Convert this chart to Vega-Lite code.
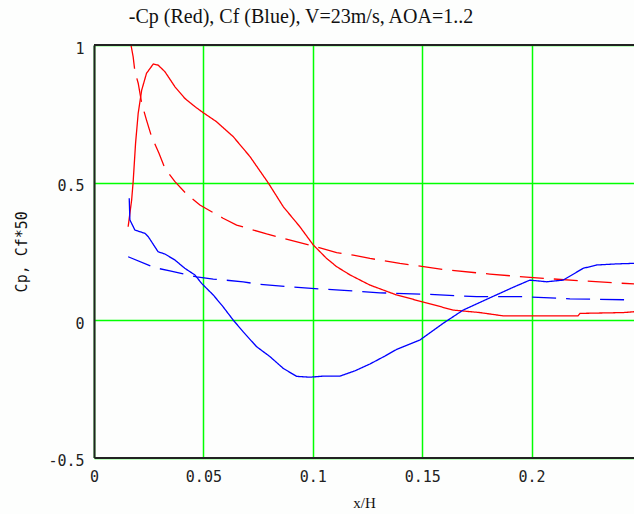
{
  "$schema": "https://vega.github.io/schema/vega-lite/v6.json",
  "width": 540,
  "height": 412.5,
  "autosize": {"type": "none"},
  "padding": {"left": 94, "top": 45, "right": 0, "bottom": 56.5},
  "background": "#fdfefd",
  "title": {
    "text": "-Cp (Red), Cf (Blue), V=23m/s, AOA=1..2",
    "font": "Liberation Serif",
    "fontSize": 20,
    "fontWeight": "normal",
    "color": "#111",
    "anchor": "middle",
    "dx": -63,
    "offset": 14
  },
  "config": {
    "view": {"stroke": null},
    "axis": {
      "labelFont": "DejaVu Sans Mono",
      "labelFontSize": 15,
      "labelColor": "#222",
      "titleFont": "Liberation Serif",
      "titleFontSize": 15,
      "titleFontWeight": "normal",
      "titleColor": "#111",
      "domainColor": "#222",
      "domainWidth": 2,
      "ticks": false,
      "gridColor": "#00ff00",
      "gridWidth": 1.5,
      "gridOpacity": 1
    }
  },
  "data": {
    "values": [
      {"curve": "Cp solid", "q": "Cp", "style": "solid", "x": 0.0156, "y": 0.339},
      {"curve": "Cp solid", "q": "Cp", "style": "solid", "x": 0.0172, "y": 0.436},
      {"curve": "Cp solid", "q": "Cp", "style": "solid", "x": 0.0179, "y": 0.503},
      {"curve": "Cp solid", "q": "Cp", "style": "solid", "x": 0.0190, "y": 0.643},
      {"curve": "Cp solid", "q": "Cp", "style": "solid", "x": 0.0202, "y": 0.752},
      {"curve": "Cp solid", "q": "Cp", "style": "solid", "x": 0.0218, "y": 0.836},
      {"curve": "Cp solid", "q": "Cp", "style": "solid", "x": 0.0240, "y": 0.897},
      {"curve": "Cp solid", "q": "Cp", "style": "solid", "x": 0.0271, "y": 0.931},
      {"curve": "Cp solid", "q": "Cp", "style": "solid", "x": 0.0293, "y": 0.927},
      {"curve": "Cp solid", "q": "Cp", "style": "solid", "x": 0.0324, "y": 0.903},
      {"curve": "Cp solid", "q": "Cp", "style": "solid", "x": 0.0370, "y": 0.848},
      {"curve": "Cp solid", "q": "Cp", "style": "solid", "x": 0.0415, "y": 0.806},
      {"curve": "Cp solid", "q": "Cp", "style": "solid", "x": 0.0461, "y": 0.776},
      {"curve": "Cp solid", "q": "Cp", "style": "solid", "x": 0.0499, "y": 0.754},
      {"curve": "Cp solid", "q": "Cp", "style": "solid", "x": 0.0560, "y": 0.721},
      {"curve": "Cp solid", "q": "Cp", "style": "solid", "x": 0.0636, "y": 0.667},
      {"curve": "Cp solid", "q": "Cp", "style": "solid", "x": 0.0713, "y": 0.594},
      {"curve": "Cp solid", "q": "Cp", "style": "solid", "x": 0.0796, "y": 0.499},
      {"curve": "Cp solid", "q": "Cp", "style": "solid", "x": 0.0865, "y": 0.412},
      {"curve": "Cp solid", "q": "Cp", "style": "solid", "x": 0.0941, "y": 0.339},
      {"curve": "Cp solid", "q": "Cp", "style": "solid", "x": 0.1002, "y": 0.273},
      {"curve": "Cp solid", "q": "Cp", "style": "solid", "x": 0.1063, "y": 0.224},
      {"curve": "Cp solid", "q": "Cp", "style": "solid", "x": 0.1109, "y": 0.194},
      {"curve": "Cp solid", "q": "Cp", "style": "solid", "x": 0.1170, "y": 0.164},
      {"curve": "Cp solid", "q": "Cp", "style": "solid", "x": 0.1261, "y": 0.127},
      {"curve": "Cp solid", "q": "Cp", "style": "solid", "x": 0.1383, "y": 0.091},
      {"curve": "Cp solid", "q": "Cp", "style": "solid", "x": 0.1497, "y": 0.067},
      {"curve": "Cp solid", "q": "Cp", "style": "solid", "x": 0.1642, "y": 0.036},
      {"curve": "Cp solid", "q": "Cp", "style": "solid", "x": 0.1764, "y": 0.027},
      {"curve": "Cp solid", "q": "Cp", "style": "solid", "x": 0.1870, "y": 0.015},
      {"curve": "Cp solid", "q": "Cp", "style": "solid", "x": 0.1992, "y": 0.015},
      {"curve": "Cp solid", "q": "Cp", "style": "solid", "x": 0.2212, "y": 0.015},
      {"curve": "Cp solid", "q": "Cp", "style": "solid", "x": 0.2221, "y": 0.024},
      {"curve": "Cp solid", "q": "Cp", "style": "solid", "x": 0.2419, "y": 0.027},
      {"curve": "Cp solid", "q": "Cp", "style": "solid", "x": 0.2468, "y": 0.030},

      {"curve": "Cp dashed", "q": "Cp", "style": "dashed", "x": 0.0169, "y": 1.0},
      {"curve": "Cp dashed", "q": "Cp", "style": "dashed", "x": 0.0179, "y": 0.957},
      {"curve": "Cp dashed", "q": "Cp", "style": "dashed", "x": 0.0187, "y": 0.903},
      {"curve": "Cp dashed", "q": "Cp", "style": "dashed", "x": 0.0202, "y": 0.861},
      {"curve": "Cp dashed", "q": "Cp", "style": "dashed", "x": 0.0218, "y": 0.788},
      {"curve": "Cp dashed", "q": "Cp", "style": "dashed", "x": 0.0240, "y": 0.727},
      {"curve": "Cp dashed", "q": "Cp", "style": "dashed", "x": 0.0263, "y": 0.667},
      {"curve": "Cp dashed", "q": "Cp", "style": "dashed", "x": 0.0297, "y": 0.606},
      {"curve": "Cp dashed", "q": "Cp", "style": "dashed", "x": 0.0324, "y": 0.552},
      {"curve": "Cp dashed", "q": "Cp", "style": "dashed", "x": 0.0370, "y": 0.503},
      {"curve": "Cp dashed", "q": "Cp", "style": "dashed", "x": 0.0423, "y": 0.458},
      {"curve": "Cp dashed", "q": "Cp", "style": "dashed", "x": 0.0484, "y": 0.418},
      {"curve": "Cp dashed", "q": "Cp", "style": "dashed", "x": 0.0590, "y": 0.370},
      {"curve": "Cp dashed", "q": "Cp", "style": "dashed", "x": 0.0652, "y": 0.345},
      {"curve": "Cp dashed", "q": "Cp", "style": "dashed", "x": 0.0789, "y": 0.313},
      {"curve": "Cp dashed", "q": "Cp", "style": "dashed", "x": 0.0865, "y": 0.297},
      {"curve": "Cp dashed", "q": "Cp", "style": "dashed", "x": 0.1002, "y": 0.269},
      {"curve": "Cp dashed", "q": "Cp", "style": "dashed", "x": 0.1109, "y": 0.245},
      {"curve": "Cp dashed", "q": "Cp", "style": "dashed", "x": 0.1185, "y": 0.236},
      {"curve": "Cp dashed", "q": "Cp", "style": "dashed", "x": 0.1261, "y": 0.224},
      {"curve": "Cp dashed", "q": "Cp", "style": "dashed", "x": 0.1398, "y": 0.206},
      {"curve": "Cp dashed", "q": "Cp", "style": "dashed", "x": 0.1612, "y": 0.182},
      {"curve": "Cp dashed", "q": "Cp", "style": "dashed", "x": 0.1809, "y": 0.167},
      {"curve": "Cp dashed", "q": "Cp", "style": "dashed", "x": 0.1992, "y": 0.155},
      {"curve": "Cp dashed", "q": "Cp", "style": "dashed", "x": 0.2236, "y": 0.142},
      {"curve": "Cp dashed", "q": "Cp", "style": "dashed", "x": 0.2468, "y": 0.131},

      {"curve": "Cf solid", "q": "Cf", "style": "solid", "x": 0.0161, "y": 0.443},
      {"curve": "Cf solid", "q": "Cf", "style": "solid", "x": 0.0164, "y": 0.364},
      {"curve": "Cf solid", "q": "Cf", "style": "solid", "x": 0.0187, "y": 0.327},
      {"curve": "Cf solid", "q": "Cf", "style": "solid", "x": 0.0233, "y": 0.315},
      {"curve": "Cf solid", "q": "Cf", "style": "solid", "x": 0.0248, "y": 0.303},
      {"curve": "Cf solid", "q": "Cf", "style": "solid", "x": 0.0293, "y": 0.248},
      {"curve": "Cf solid", "q": "Cf", "style": "solid", "x": 0.0324, "y": 0.240},
      {"curve": "Cf solid", "q": "Cf", "style": "solid", "x": 0.0370, "y": 0.218},
      {"curve": "Cf solid", "q": "Cf", "style": "solid", "x": 0.0415, "y": 0.188},
      {"curve": "Cf solid", "q": "Cf", "style": "solid", "x": 0.0461, "y": 0.164},
      {"curve": "Cf solid", "q": "Cf", "style": "solid", "x": 0.0492, "y": 0.133},
      {"curve": "Cf solid", "q": "Cf", "style": "solid", "x": 0.0545, "y": 0.091},
      {"curve": "Cf solid", "q": "Cf", "style": "solid", "x": 0.0590, "y": 0.048},
      {"curve": "Cf solid", "q": "Cf", "style": "solid", "x": 0.0636, "y": 0.0},
      {"curve": "Cf solid", "q": "Cf", "style": "solid", "x": 0.0682, "y": -0.043},
      {"curve": "Cf solid", "q": "Cf", "style": "solid", "x": 0.0743, "y": -0.097},
      {"curve": "Cf solid", "q": "Cf", "style": "solid", "x": 0.0804, "y": -0.133},
      {"curve": "Cf solid", "q": "Cf", "style": "solid", "x": 0.0865, "y": -0.176},
      {"curve": "Cf solid", "q": "Cf", "style": "solid", "x": 0.0926, "y": -0.205},
      {"curve": "Cf solid", "q": "Cf", "style": "solid", "x": 0.0987, "y": -0.208},
      {"curve": "Cf solid", "q": "Cf", "style": "solid", "x": 0.1048, "y": -0.204},
      {"curve": "Cf solid", "q": "Cf", "style": "solid", "x": 0.1124, "y": -0.204},
      {"curve": "Cf solid", "q": "Cf", "style": "solid", "x": 0.1192, "y": -0.185},
      {"curve": "Cf solid", "q": "Cf", "style": "solid", "x": 0.1261, "y": -0.160},
      {"curve": "Cf solid", "q": "Cf", "style": "solid", "x": 0.1330, "y": -0.131},
      {"curve": "Cf solid", "q": "Cf", "style": "solid", "x": 0.1383, "y": -0.107},
      {"curve": "Cf solid", "q": "Cf", "style": "solid", "x": 0.1489, "y": -0.073},
      {"curve": "Cf solid", "q": "Cf", "style": "solid", "x": 0.1596, "y": -0.012},
      {"curve": "Cf solid", "q": "Cf", "style": "solid", "x": 0.1687, "y": 0.036},
      {"curve": "Cf solid", "q": "Cf", "style": "solid", "x": 0.1794, "y": 0.075},
      {"curve": "Cf solid", "q": "Cf", "style": "solid", "x": 0.1916, "y": 0.119},
      {"curve": "Cf solid", "q": "Cf", "style": "solid", "x": 0.1992, "y": 0.145},
      {"curve": "Cf solid", "q": "Cf", "style": "solid", "x": 0.2069, "y": 0.139},
      {"curve": "Cf solid", "q": "Cf", "style": "solid", "x": 0.2144, "y": 0.145},
      {"curve": "Cf solid", "q": "Cf", "style": "solid", "x": 0.2236, "y": 0.188},
      {"curve": "Cf solid", "q": "Cf", "style": "solid", "x": 0.2297, "y": 0.200},
      {"curve": "Cf solid", "q": "Cf", "style": "solid", "x": 0.2388, "y": 0.204},
      {"curve": "Cf solid", "q": "Cf", "style": "solid", "x": 0.2468, "y": 0.206},

      {"curve": "Cf dashed", "q": "Cf", "style": "dashed", "x": 0.0156, "y": 0.230},
      {"curve": "Cf dashed", "q": "Cf", "style": "dashed", "x": 0.0278, "y": 0.190},
      {"curve": "Cf dashed", "q": "Cf", "style": "dashed", "x": 0.0347, "y": 0.179},
      {"curve": "Cf dashed", "q": "Cf", "style": "dashed", "x": 0.0469, "y": 0.157},
      {"curve": "Cf dashed", "q": "Cf", "style": "dashed", "x": 0.0545, "y": 0.149},
      {"curve": "Cf dashed", "q": "Cf", "style": "dashed", "x": 0.0682, "y": 0.139},
      {"curve": "Cf dashed", "q": "Cf", "style": "dashed", "x": 0.0743, "y": 0.131},
      {"curve": "Cf dashed", "q": "Cf", "style": "dashed", "x": 0.0895, "y": 0.121},
      {"curve": "Cf dashed", "q": "Cf", "style": "dashed", "x": 0.1048, "y": 0.112},
      {"curve": "Cf dashed", "q": "Cf", "style": "dashed", "x": 0.1124, "y": 0.109},
      {"curve": "Cf dashed", "q": "Cf", "style": "dashed", "x": 0.1307, "y": 0.099},
      {"curve": "Cf dashed", "q": "Cf", "style": "dashed", "x": 0.1535, "y": 0.093},
      {"curve": "Cf dashed", "q": "Cf", "style": "dashed", "x": 0.1749, "y": 0.085},
      {"curve": "Cf dashed", "q": "Cf", "style": "dashed", "x": 0.1962, "y": 0.085},
      {"curve": "Cf dashed", "q": "Cf", "style": "dashed", "x": 0.2175, "y": 0.077},
      {"curve": "Cf dashed", "q": "Cf", "style": "dashed", "x": 0.2468, "y": 0.073}
    ]
  },
  "layer": [
    {
      "mark": {"type": "line", "strokeWidth": 1.3, "clip": true},
      "encoding": {
        "x": {
          "field": "x", "type": "quantitative",
          "scale": {"domain": [0, 0.2468], "nice": false, "zero": false},
          "axis": {"values": [0, 0.05, 0.1, 0.15, 0.2], "format": "~g", "title": "x/H", "labelPadding": 12, "titlePadding": 11, "labelFlush": false}
        },
        "y": {
          "field": "y", "type": "quantitative",
          "scale": {"domain": [-0.5, 1], "nice": false},
          "axis": {"values": [-0.5, 0, 0.5, 1], "format": "~g", "labelExpr": "replace(datum.label, '\u2212', '-')", "title": "Cp, Cf*50", "titleFont": "DejaVu Sans Mono", "titleFontSize": 15, "labelPadding": 10, "labelOffset": 3, "titlePadding": 18, "labelFlush": false}
        },
        "color": {"field": "q", "type": "nominal", "scale": {"domain": ["Cp", "Cf"], "range": ["#ff0000", "#0000ff"]}, "legend": null},
        "strokeDash": {"field": "style", "type": "nominal", "scale": {"domain": ["solid", "dashed"], "range": [[1, 0], [24, 10]]}, "legend": null},
        "detail": {"field": "curve"},
        "order": {"field": "x", "type": "quantitative"}
      }
    },
    {
      "mark": {"type": "rule", "color": "#222", "strokeWidth": 2},
      "encoding": {"y": {"datum": 1}}
    }
  ]
}
